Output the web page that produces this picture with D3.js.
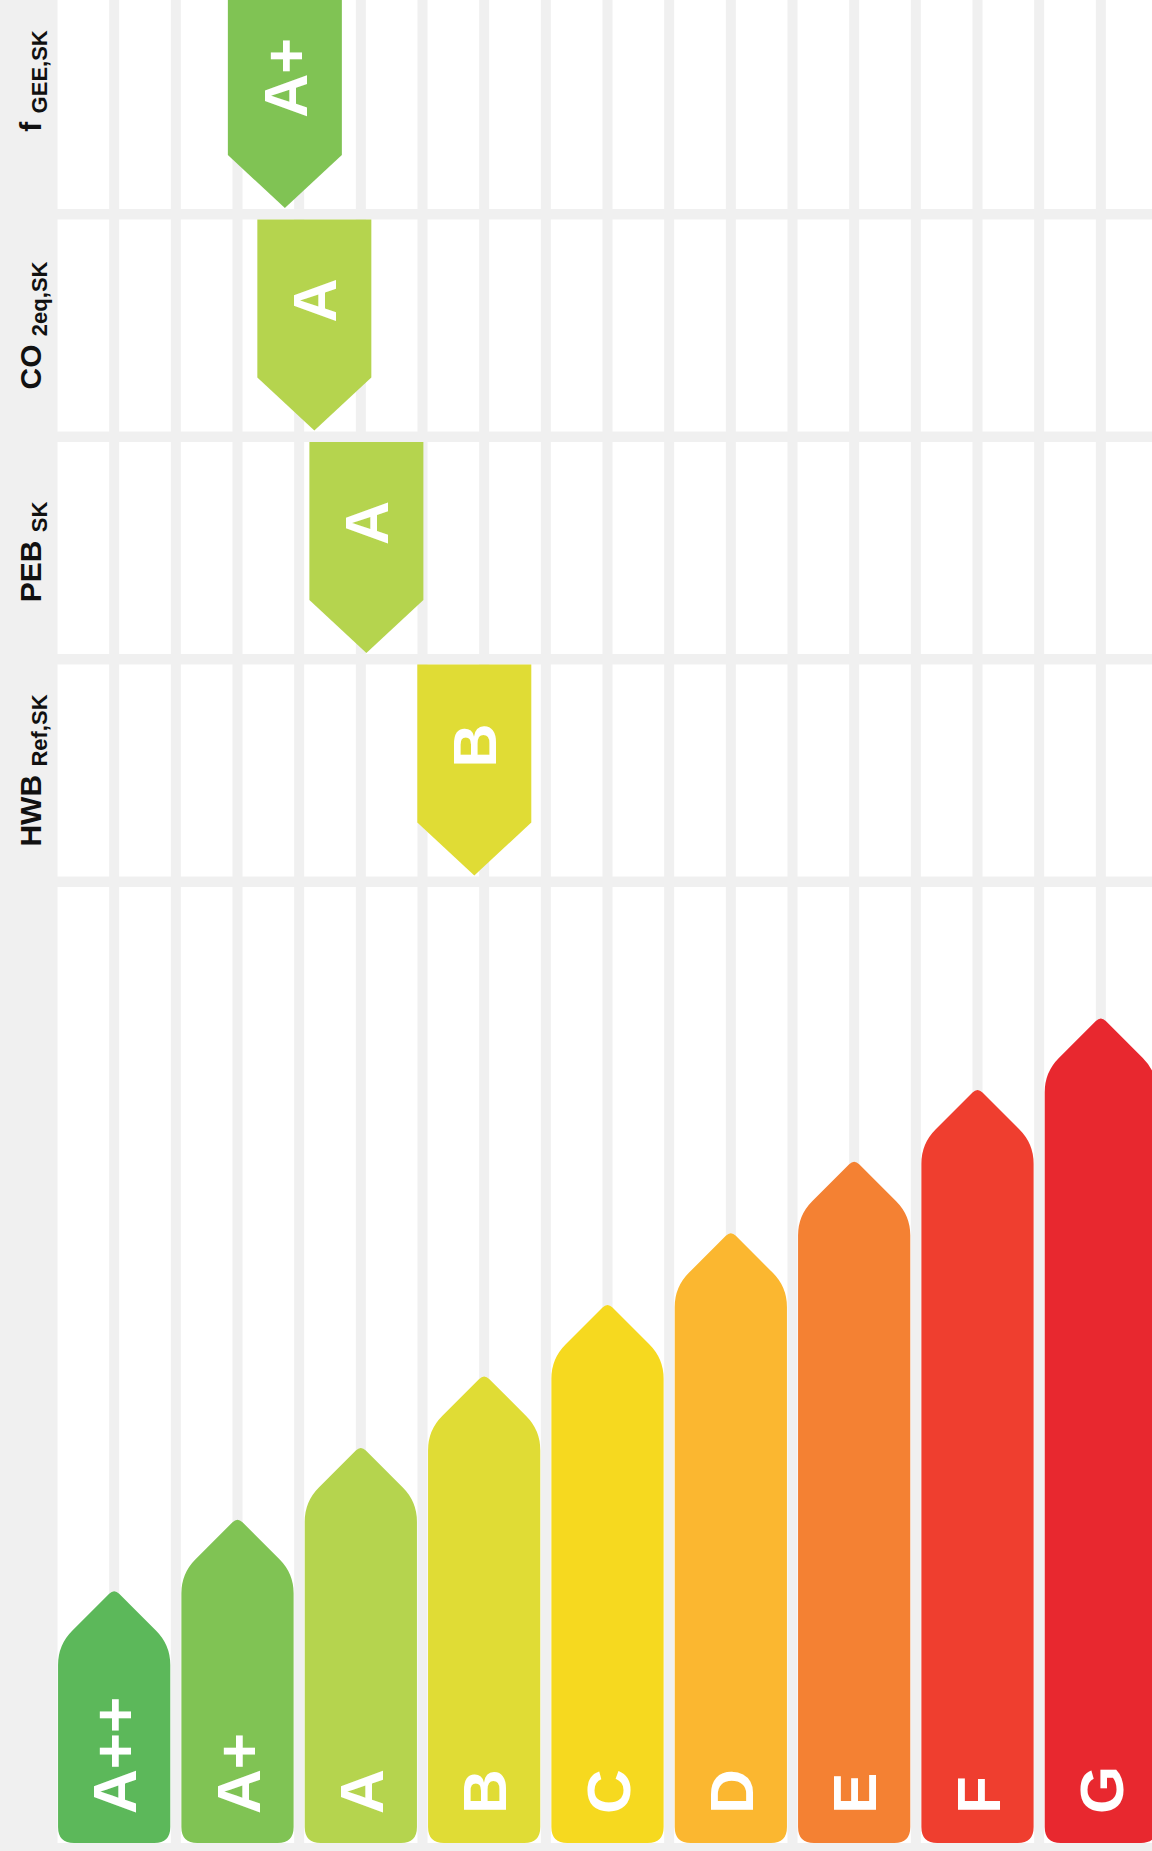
<!DOCTYPE html>
<html>
<head>
<meta charset="utf-8">
<script src="https://cdn.jsdelivr.net/npm/d3@7"></script>
<style>
  html, body { margin: 0; padding: 0; background: #f0f0f0; }
  svg { display: block; }
  text { font-family: "Liberation Sans", Arial, sans-serif; font-weight: bold; }
</style>
</head>
<body>
<svg id="chart" width="1152" height="1851"></svg>
<script>
// ---------- data ----------
const classes = ["A++", "A+", "A", "B", "C", "D", "E", "F", "G"];
const classColors = ["#5cb85a", "#80c354", "#b5d44e", "#e0dc35", "#f6d91f", "#fbb730", "#f48133", "#ef3e2f", "#e8282f"];
// bar heights in class-step units
const barHeights = [3.55, 4.55, 5.55, 6.55, 7.55, 8.55, 9.55, 10.55, 11.55];

const indicatorNames = ["f", "CO", "PEB", "HWB"];
const indicatorSubs = ["GEE,SK", "2eq,SK", "SK", "Ref,SK"];
const indicatorClass = ["A+", "A", "A", "B"];
// continuous position on the class axis (0 = left edge of A++, 9 = right edge of G)
const indicatorValue = [1.884, 2.123, 2.545, 3.42];

// ---------- layout ----------
const W = 1152, H = 1851;
const plotLeft = 57;
const xLin = d3.scaleLinear().domain([0, 9]).range([52.5, 1162.5]);
const xBand = d3.scaleBand().domain(classes).range([52.5, 1162.5]).paddingInner(0.09).paddingOuter(0.045);
const color = d3.scaleOrdinal().domain(classes).range(classColors);

const rowStep = 222.5, rowTop0 = -3, rowH = 212;
const rowScale = d3.scaleLinear().domain([0, 1]).range([rowTop0, rowTop0 + rowStep]);
const bottomTop = 887, barBottom = 1843;
const yBar = d3.scaleLinear().domain([0, 1]).range([barBottom, barBottom - 71.6]);
const labelShift = [-22, 0, 4, 0];

const svg = d3.select("#chart");
svg.append("rect").attr("width", W).attr("height", H).attr("fill", "#f0f0f0");

// white areas
const rows = d3.range(indicatorNames.length);
svg.selectAll("rect.row").data(rows).join("rect")
  .attr("class", "row")
  .attr("x", plotLeft).attr("width", W - plotLeft)
  .attr("y", d => rowScale(d)).attr("height", rowH)
  .attr("fill", "#ffffff");
svg.append("rect").attr("x", plotLeft).attr("width", W - plotLeft)
  .attr("y", bottomTop).attr("height", barBottom - bottomTop).attr("fill", "#ffffff");

// vertical stripes
svg.selectAll("rect.vstripe").data(d3.range(0, 19)).join("rect")
  .attr("class", "vstripe")
  .attr("x", d => xLin(d * 0.5) - 5).attr("width", 10)
  .attr("y", 0).attr("height", H)
  .attr("fill", "#f0f0f0");

// ---------- bottom bars ----------
function barPath(x0, w, yt, yb) {
  const x1 = x0 + w, half = w / 2, cx = x0 + half;
  const ys = yt + half;
  const r = 16, rs = 20, t = 5;
  const k = rs * 0.7071;
  return [
    "M", x0, yb - r,
    "L", x0, ys + rs,
    "Q", x0, ys, x0 + k, ys - k,
    "L", cx - t, yt + t,
    "Q", cx, yt, cx + t, yt + t,
    "L", x1 - k, ys - k,
    "Q", x1, ys, x1, ys + rs,
    "L", x1, yb - r,
    "Q", x1, yb, x1 - r, yb,
    "L", x0 + r, yb,
    "Q", x0, yb, x0, yb - r,
    "Z"
  ].join(" ");
}

const barData = classes.map((c, i) => ({ c, h: barHeights[i] }));
svg.selectAll("path.bar").data(barData).join("path")
  .attr("class", "bar")
  .attr("d", d => barPath(xBand(d.c), xBand.bandwidth(), yBar(d.h), barBottom))
  .attr("fill", d => color(d.c));

const barFont = 62;
svg.selectAll("text.barlabel").data(barData).join("text")
  .attr("class", "barlabel")
  .attr("transform", d => `translate(${xBand(d.c) + xBand.bandwidth() / 2 + barFont * 0.358},${barBottom - 29}) rotate(-90)`)
  .attr("text-anchor", "start")
  .attr("font-size", barFont)
  .attr("fill", "#ffffff")
  .text(d => d.c);

// ---------- indicator markers ----------
const mW = 114, mRect = 158, mTip = 211;
const markerData = rows.map(r => ({ r, cls: indicatorClass[r], v: indicatorValue[r] }));
svg.selectAll("path.marker").data(markerData).join("path")
  .attr("class", "marker")
  .attr("d", d => {
    const cx = xLin(d.v), top = rowScale(d.r);
    const x0 = cx - mW / 2, x1 = cx + mW / 2;
    return `M${x0},${top} L${x1},${top} L${x1},${top + mRect} L${cx},${top + mTip} L${x0},${top + mRect} Z`;
  })
  .attr("fill", d => color(d.cls));

const mFont = 61;
svg.selectAll("text.mlabel").data(markerData).join("text")
  .attr("class", "mlabel")
  .attr("transform", d => `translate(${xLin(d.v) + mFont * 0.358},${rowScale(d.r) + mRect / 2 + 2}) rotate(-90)`)
  .attr("text-anchor", "middle")
  .attr("font-size", mFont)
  .attr("fill", "#ffffff")
  .text(d => d.cls);

// ---------- indicator names ----------
const nameText = svg.selectAll("text.name").data(rows).join("text")
  .attr("class", "name")
  .attr("transform", d => `translate(41,${rowScale(d) + rowH / 2 + labelShift[d]}) rotate(-90)`)
  .attr("text-anchor", "middle")
  .attr("font-size", 30)
  .attr("fill", "#111111");
nameText.append("tspan").text(d => indicatorNames[d] + " ");
nameText.append("tspan").attr("font-size", 22).attr("dy", 6).text(d => indicatorSubs[d]);
</script>
</body>
</html>
